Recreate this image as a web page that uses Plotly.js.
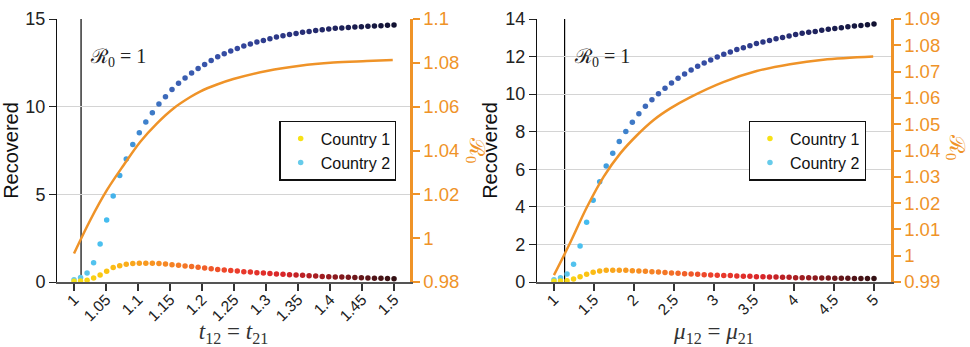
<!DOCTYPE html>
<html>
<head>
<meta charset="utf-8">
<script src="https://cdn.plot.ly/plotly-3.0.1.min.js"></script>
<style>
  html, body { margin: 0; padding: 0; background: #fff; }
  #chart { width: 970px; height: 347px; }
</style>
</head>
<body>
<div id="chart"></div>
<script>
// ---- Panel A: travel rates t12 = t21 ----
const tVals = [1, 1.0102, 1.0204, 1.0306, 1.0408, 1.0510, 1.0612, 1.0714, 1.0816, 1.0918,
  1.1020, 1.1122, 1.1224, 1.1327, 1.1429, 1.1531, 1.1633, 1.1735, 1.1837, 1.1939,
  1.2041, 1.2143, 1.2245, 1.2347, 1.2449, 1.2551, 1.2653, 1.2755, 1.2857, 1.2959,
  1.3061, 1.3163, 1.3265, 1.3367, 1.3469, 1.3571, 1.3673, 1.3776, 1.3878, 1.3980,
  1.4082, 1.4184, 1.4286, 1.4388, 1.4490, 1.4592, 1.4694, 1.4796, 1.4898, 1.5];
const recoveredC1_t = [0.04, 0.06, 0.10, 0.23, 0.40, 0.61, 0.82, 0.93, 1.01, 1.05,
  1.07, 1.07, 1.07, 1.05, 1.03, 0.99, 0.95, 0.91, 0.88, 0.84,
  0.80, 0.76, 0.72, 0.69, 0.65, 0.63, 0.59, 0.57, 0.53, 0.51,
  0.49, 0.46, 0.44, 0.42, 0.40, 0.38, 0.36, 0.34, 0.32, 0.30,
  0.29, 0.28, 0.27, 0.25, 0.24, 0.23, 0.22, 0.21, 0.20, 0.19];
const recoveredC2_t = [0.13, 0.25, 0.51, 1.10, 2.17, 3.54, 4.91, 6.07, 7.02, 7.84,
  8.51, 9.12, 9.65, 10.15, 10.56, 10.98, 11.33, 11.63, 11.92, 12.18,
  12.41, 12.64, 12.85, 13.02, 13.17, 13.32, 13.46, 13.57, 13.69, 13.78,
  13.88, 13.97, 14.05, 14.12, 14.18, 14.24, 14.29, 14.35, 14.39, 14.43,
  14.47, 14.49, 14.52, 14.54, 14.56, 14.58, 14.60, 14.62, 14.64, 14.66];
const tR0 = [1, 1.0255, 1.0516, 1.0777, 1.1036, 1.1297, 1.1558, 1.1817, 1.1969,
  1.2234, 1.2489, 1.3011, 1.3531, 1.4052, 1.4573, 1.498];
const r0_t = [0.9930, 1.0083, 1.0220, 1.0334, 1.0440, 1.0524, 1.0593, 1.0644, 1.0669,
  1.0701, 1.0726, 1.0763, 1.0787, 1.0801, 1.0808, 1.0813];
const tThreshold = 1.011;   // t where R0 crosses 1
const tTicks = [1, 1.05, 1.1, 1.15, 1.2, 1.25, 1.3, 1.35, 1.4, 1.45, 1.5];
const tTickText = ['1', '1.05', '1.1', '1.15', '1.2', '1.25', '1.3', '1.35', '1.4', '1.45', '1.5'];
const recTicks_t = [0, 5, 10, 15];
const r0Ticks_t = [0.98, 1, 1.02, 1.04, 1.06, 1.08, 1.1];
const r0TickText_t = ['0.98', '1', '1.02', '1.04', '1.06', '1.08', '1.1'];

// ---- Panel B: mobility rates mu12 = mu21 ----
const muVals = [1, 1.0816, 1.1633, 1.2449, 1.3265, 1.4082, 1.4898, 1.5714, 1.6531, 1.7347,
  1.8163, 1.8980, 1.9796, 2.0612, 2.1429, 2.2245, 2.3061, 2.3878, 2.4694, 2.5510,
  2.6327, 2.7143, 2.7959, 2.8776, 2.9592, 3.0408, 3.1224, 3.2041, 3.2857, 3.3673,
  3.4490, 3.5306, 3.6122, 3.6939, 3.7755, 3.8571, 3.9388, 4.0204, 4.1020, 4.1837,
  4.2653, 4.3469, 4.4286, 4.5102, 4.5918, 4.6735, 4.7551, 4.8367, 4.9184, 5];
const recoveredC1_mu = [0.04, 0.05, 0.07, 0.16, 0.28, 0.41, 0.52, 0.59, 0.62, 0.62,
  0.62, 0.62, 0.60, 0.59, 0.57, 0.55, 0.53, 0.50, 0.48, 0.46,
  0.44, 0.43, 0.41, 0.39, 0.37, 0.36, 0.34, 0.34, 0.32, 0.30,
  0.30, 0.28, 0.28, 0.27, 0.27, 0.25, 0.25, 0.23, 0.23, 0.23,
  0.21, 0.21, 0.21, 0.20, 0.20, 0.20, 0.18, 0.18, 0.18, 0.18];
const recoveredC2_mu = [0.12, 0.23, 0.43, 0.94, 1.92, 3.18, 4.35, 5.33, 6.17, 6.86,
  7.48, 8.01, 8.51, 8.95, 9.35, 9.70, 10.02, 10.32, 10.59, 10.84,
  11.07, 11.28, 11.48, 11.66, 11.82, 11.98, 12.12, 12.24, 12.37, 12.47,
  12.58, 12.69, 12.77, 12.86, 12.95, 13.02, 13.09, 13.17, 13.24, 13.29,
  13.34, 13.40, 13.45, 13.50, 13.54, 13.59, 13.63, 13.66, 13.70, 13.73];
const muR0 = [1, 1.204, 1.4125, 1.62, 1.829, 2.0375, 2.246, 2.454, 2.7,
  3.116, 3.534, 3.95, 4.366, 4.99];
const r0_mu = [0.9926, 1.0050, 1.0185, 1.0300, 1.0389, 1.0458, 1.0516, 1.0560, 1.0602,
  1.0660, 1.0702, 1.0728, 1.0745, 1.0757];
const muThreshold = 1.133;  // mu where R0 crosses 1
const muTicks = [1, 1.5, 2, 2.5, 3, 3.5, 4, 4.5, 5];
const muTickText = ['1', '1.5', '2', '2.5', '3', '3.5', '4', '4.5', '5'];
const recTicks_mu = [0, 2, 4, 6, 8, 10, 12, 14];
const r0Ticks_mu = [0.99, 1, 1.01, 1.02, 1.03, 1.04, 1.05, 1.06, 1.07, 1.08, 1.09];
const r0TickText_mu = ['0.99', '1', '1.01', '1.02', '1.03', '1.04', '1.05', '1.06', '1.07', '1.08', '1.09'];

const seriesNames = ['Country 1', 'Country 2'];

// ---- styling ----
const ORANGE = '#ef9328';
const SANS = 'Liberation Sans, Arial, Helvetica, sans-serif';
const SERIF = 'Liberation Serif, DejaVu Serif, Times New Roman, serif';
const warmScale = [
  [0, '#f7e116'], [0.1, '#fbc412'], [0.2, '#f9a01e'], [0.35, '#f47526'],
  [0.5, '#ec3d2b'], [0.65, '#d92529'], [0.8, '#951b1f'], [1, '#331013']
];
const coolScale = [
  [0, '#66cbea'], [0.1, '#45bdf0'], [0.2, '#3f8bd3'], [0.3, '#3c64b6'],
  [0.5, '#3549a0'], [0.7, '#29317b'], [0.85, '#1c1f55'], [1, '#111131']
];
const DOT = 5.5;

function dots(x, y, name, scale, cmin, cmax, xa, ya, legend, rank) {
  return {
    type: 'scatter', mode: 'markers', x: x, y: y, name: name,
    xaxis: xa, yaxis: ya, legend: legend, legendrank: rank,
    marker: { size: DOT, color: x, colorscale: scale, cmin: cmin, cmax: cmax, line: { width: 0 } },
    hoverinfo: 'x+y+name'
  };
}
function r0Line(x, y, xa, ya) {
  return {
    type: 'scatter', mode: 'lines', x: x, y: y, xaxis: xa, yaxis: ya,
    line: { color: ORANGE, width: 2.5, shape: 'spline', smoothing: 1 },
    showlegend: false, hoverinfo: 'x+y'
  };
}

const data = [
  r0Line(tR0, r0_t, 'x', 'y2'),
  dots(tVals, recoveredC2_t, seriesNames[1], coolScale, 1, 1.5, 'x', 'y', 'legend', 2),
  dots(tVals, recoveredC1_t, seriesNames[0], warmScale, 1, 1.5, 'x', 'y', 'legend', 1),
  r0Line(muR0, r0_mu, 'x2', 'y4'),
  dots(muVals, recoveredC2_mu, seriesNames[1], coolScale, 1, 5, 'x2', 'y3', 'legend2', 2),
  dots(muVals, recoveredC1_mu, seriesNames[0], warmScale, 1, 5, 'x2', 'y3', 'legend2', 1)
];

function xAxis(domain, range, ticks, text, title, anchor) {
  return {
    domain: domain, range: range, anchor: anchor,
    tickvals: ticks, ticktext: text, tickangle: -45,
    ticks: 'outside', ticklen: 7, tickwidth: 1.2, tickcolor: '#333',
    ticklabelstandoff: -6,
    showline: true, linecolor: '#555', linewidth: 1.5,
    showgrid: false, zeroline: false,
    tickfont: { family: SANS, size: 15.5, color: '#222' },
    title: { text: title, font: { family: SERIF, size: 23, color: '#333' }, standoff: 10 }
  };
}
function recAxis(range, ticks, anchor) {
  return {
    range: range, anchor: anchor, tickvals: ticks,
    ticks: 'outside', ticklen: 7, tickwidth: 1, tickcolor: '#222',
    showline: true, linecolor: '#111', linewidth: 1,
    showgrid: true, gridcolor: '#d4d4d4', gridwidth: 1, zeroline: false,
    tickfont: { family: SANS, size: 18, color: '#222' },
    title: { text: 'Recovered', font: { family: SANS, size: 20, color: '#111' }, standoff: 2 }
  };
}
function r0Axis(range, ticks, text, overlay, anchor) {
  return {
    range: range, overlaying: overlay, side: 'right', anchor: anchor,
    tickvals: ticks, ticktext: text,
    ticks: 'outside', ticklen: 7, tickwidth: 2, tickcolor: ORANGE,
    showline: true, linecolor: ORANGE, linewidth: 2.5,
    showgrid: false, zeroline: false,
    tickfont: { family: SANS, size: 18.5, color: ORANGE }
  };
}

const legendStyle = (x) => ({
  x: x, y: 0.5, xanchor: 'center', yanchor: 'middle',
  xref: 'paper', yref: 'paper',
  bgcolor: '#fff', bordercolor: '#111', borderwidth: 1.2,
  font: { family: SANS, size: 16, color: '#111' },
  itemwidth: 30, tracegroupgap: 0
});

const layout = {
  width: 970, height: 347,
  margin: { l: 57, r: 79, t: 19, b: 65 },
  paper_bgcolor: '#fff', plot_bgcolor: '#fff',
  showlegend: true,
  xaxis: xAxis([0, 0.4233], [0.9734, 1.525], tTicks, tTickText,
    '<i>t</i><sub>12</sub> = <i>t</i><sub>21</sub>', 'y'),
  yaxis: recAxis([0, 15], recTicks_t, 'x'),
  yaxis2: r0Axis([0.98, 1.1], r0Ticks_t, r0TickText_t, 'y', 'x'),
  xaxis2: xAxis([0.5755, 1], [0.7875, 5.2125], muTicks, muTickText,
    '<i>μ</i><sub>12</sub> = <i>μ</i><sub>21</sub>', 'y3'),
  yaxis3: recAxis([0, 14], recTicks_mu, 'x2'),
  yaxis4: r0Axis([0.99, 1.09], r0Ticks_mu, r0TickText_mu, 'y3', 'x2'),
  legend: legendStyle(0.3369),
  legend2: legendStyle(0.8996),
  shapes: [
    { type: 'line', xref: 'x', yref: 'y domain', x0: tThreshold, x1: tThreshold, y0: 0, y1: 1,
      line: { color: '#000', width: 1.2 }, layer: 'below' },
    { type: 'line', xref: 'x2', yref: 'y3 domain', x0: muThreshold, x1: muThreshold, y0: 0, y1: 1,
      line: { color: '#000', width: 1.2 }, layer: 'below' }
  ],
  annotations: [
    { xref: 'paper', yref: 'paper', x: 0.0372, y: 0.9087, xanchor: 'left', showarrow: false,
      text: 'ℛ<sub>0</sub> = 1', font: { family: SERIF, size: 20, color: '#222' } },
    { xref: 'paper', yref: 'paper', x: 0.6175, y: 0.9087, xanchor: 'left', showarrow: false,
      text: 'ℛ<sub>0</sub> = 1', font: { family: SERIF, size: 20, color: '#222' } },
    { xref: 'paper', yref: 'paper', x: 0.4844, y: 0.502, xanchor: 'left', showarrow: false, textangle: 90,
      text: 'ℛ<sub>0</sub>', font: { family: SERIF, size: 21, color: ORANGE } },
    { xref: 'paper', yref: 'paper', x: 1.060, y: 0.513, xanchor: 'left', showarrow: false, textangle: 90,
      text: 'ℛ<sub>0</sub>', font: { family: SERIF, size: 21, color: ORANGE } }
  ]
};

Plotly.newPlot('chart', data, layout, { displayModeBar: false, staticPlot: true });
</script>
</body>
</html>
